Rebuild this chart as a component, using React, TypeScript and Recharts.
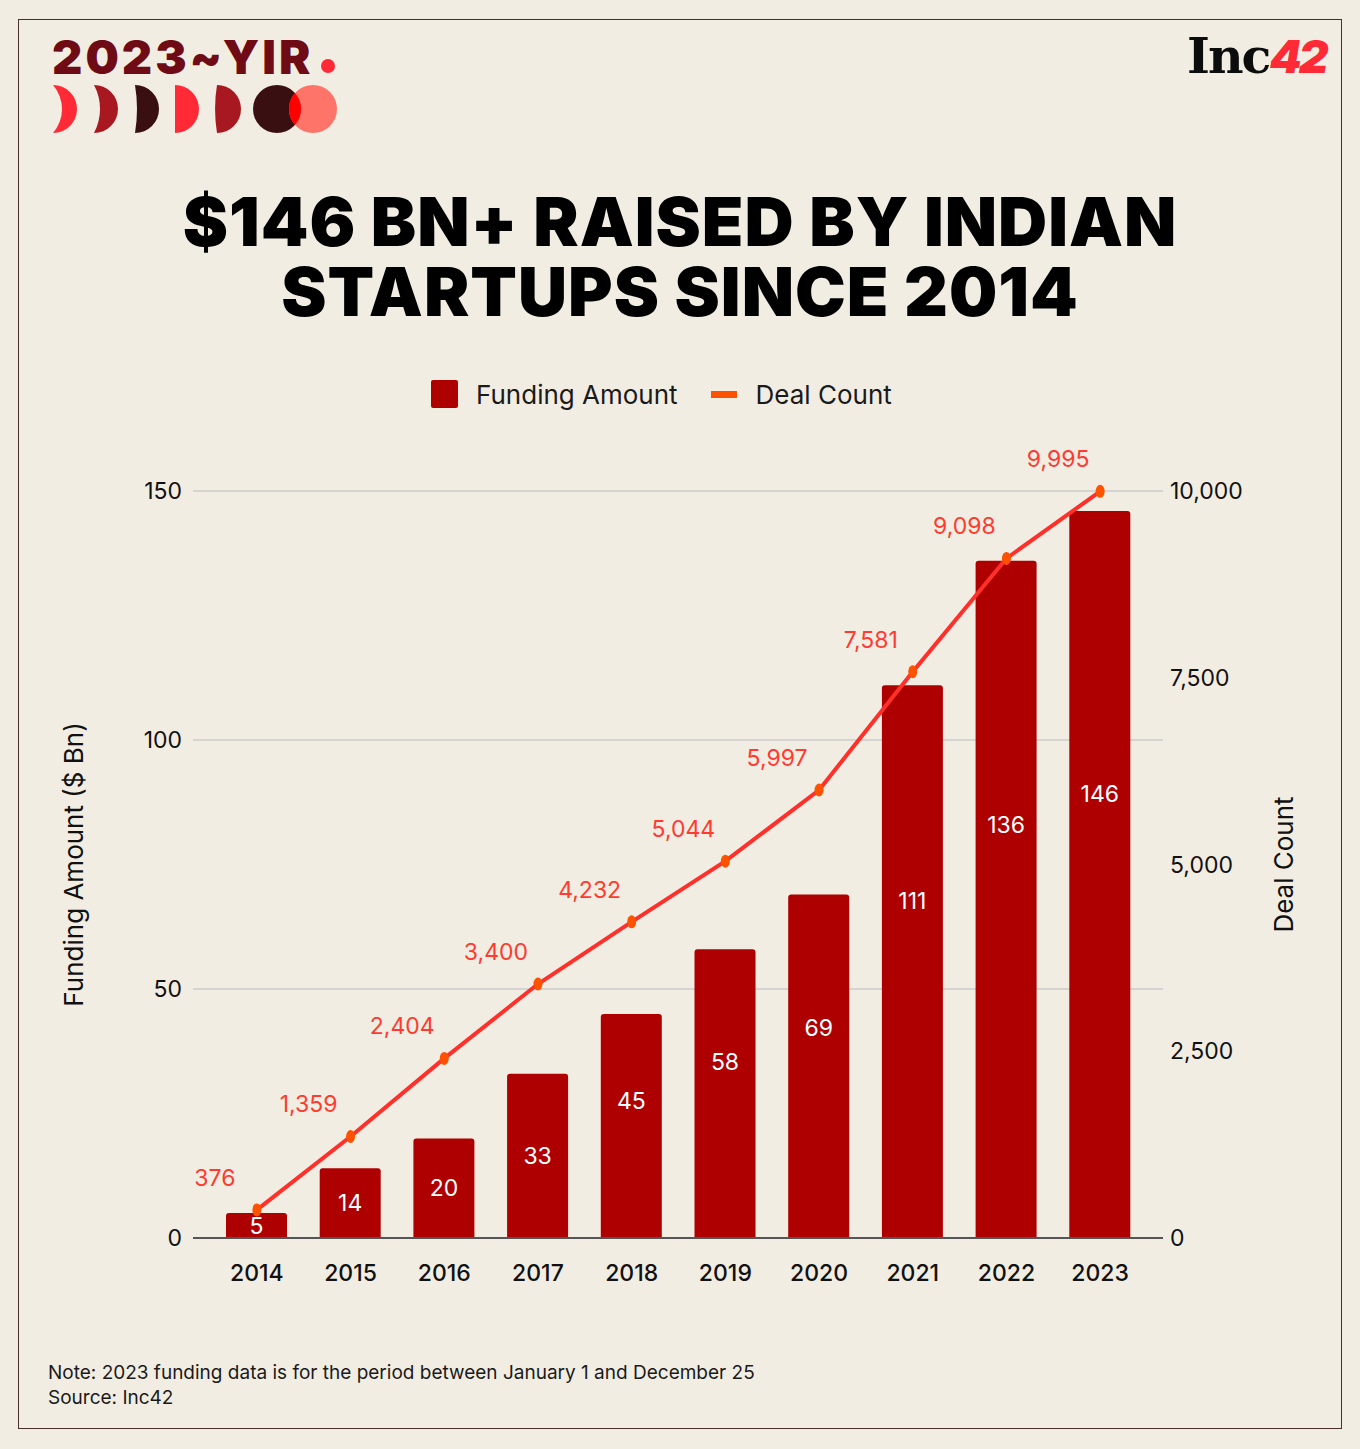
import React from 'react'
import {
  Bar,
  CartesianGrid,
  ComposedChart,
  Label,
  LabelList,
  Legend,
  Line,
  XAxis,
  YAxis,
} from 'recharts'

const YEARS = ['2014', '2015', '2016', '2017', '2018', '2019', '2020', '2021', '2022', '2023']
const FUNDING = [5, 14, 20, 33, 45, 58, 69, 111, 136, 146]
const DEALS = [376, 1359, 2404, 3400, 4232, 5044, 5997, 7581, 9098, 9995]
const FUNDING_TICKS = [0, 50, 100, 150]
const DEAL_TICKS = [0, 2500, 5000, 7500, 10000]
const SERIES_ORDER = ['funding', 'deals']

const data = YEARS.map((year, i) => ({ year, funding: FUNDING[i], deals: DEALS[i] }))

const FONT = 'Inter, "Noto Sans", sans-serif'
const BG = '#f2ede3'
const BAR_RED = '#ae0000'
const LINE_RED = '#ff2f2a'
const DOT_ORANGE = '#ff5200'

const fmt = (n: number) => n.toLocaleString('en-US')

const BarValue = (props: any) => {
  const { x, y, width, height, value } = props
  const cy = y + height * (height > 200 ? 0.39 : 0.5)
  return (
    <text x={x + width / 2} y={cy} fill="#fff" fontSize={23} fontFamily={FONT}
      textAnchor="middle" dominantBaseline="central">{value}</text>
  )
}

const DealValue = (props: any) => {
  const { x, y, value } = props
  return (
    <text x={x - 42} y={y - 32} fill="#ff3a30" fontSize={23} fontFamily={FONT}
      textAnchor="middle" dominantBaseline="central">{fmt(value)}</text>
  )
}

const Dot = (props: any) => {
  const { cx, cy } = props
  if (cx == null || cy == null) return null
  return <ellipse cx={cx} cy={cy} rx={4.5} ry={6.5} fill={DOT_ORANGE} />
}

const LegendBox = (props: any) => {
  const items = [...(props.payload || [])].sort(
    (a: any, b: any) => SERIES_ORDER.indexOf(a.dataKey) - SERIES_ORDER.indexOf(b.dataKey),
  )
  return (
    <div style={{ height: 68, display: 'flex', alignItems: 'center', paddingLeft: 431, fontFamily: FONT }}>
      {items.map((it: any) => (
        <div key={it.value} style={{ display: 'flex', alignItems: 'center', marginRight: 33 }}>
          {it.dataKey === 'funding' ? (
            <span style={{ width: 27, height: 28, background: BAR_RED, borderRadius: 2, marginRight: 18 }} />
          ) : (
            <span style={{ width: 26, height: 7, background: DOT_ORANGE, marginRight: 19 }} />
          )}
          <span style={{ fontSize: 26, color: '#1a1a1a' }}>{it.value}</span>
        </div>
      ))}
    </div>
  )
}

const Logo = () => (
  <svg width={360} height={150} style={{ position: 'absolute', left: 0, top: 0 }}>
    <text x={52} y={74} fontFamily={FONT} fontWeight={900} fontSize={47} letterSpacing={3} fill="#6e0b14">
      2023~YIR
    </text>
    <circle cx={328} cy={66} r={7} fill="#ff2a35" />
    <path d="M53 85 A24 24 0 0 1 53 133 A36.5 36.5 0 0 0 53 85 Z" fill="#ff2a35" />
    <path d="M94 85 A24 24 0 0 1 94 133 A51 51 0 0 0 94 85 Z" fill="#a81820" />
    <path d="M135 85 A24 24 0 0 1 135 133 A145 145 0 0 0 135 85 Z" fill="#3a0f12" />
    <path d="M175 85 A24 24 0 0 1 175 133 Z" fill="#ff2a35" />
    <path d="M217 85 A24 24 0 0 1 217 133 A150 150 0 0 1 217 85 Z" fill="#a81820" />
    <circle cx={277} cy={109} r={24} fill="#3a0f12" />
    <circle cx={313} cy={109} r={24} fill="#ff7468" />
    <path d="M295 93 A24 24 0 0 1 295 125 A24 24 0 0 1 295 93 Z" fill="#ff0000" />
  </svg>
)

const titleLine: React.CSSProperties = {
  position: 'absolute', left: 0, width: 1360, textAlign: 'center', fontFamily: FONT,
  fontWeight: 900, fontSize: 68, lineHeight: '68px', color: '#000', letterSpacing: 1,
}

const axisTitle = (text: string, shift: number) => (p: any) => {
  const vb = p.viewBox
  const x = vb.x + shift
  const y = vb.y + vb.height / 2
  return (
    <text x={x} y={y} transform={`rotate(-90 ${x} ${y})`} textAnchor="middle"
      dominantBaseline="central" fontSize={26} fontFamily={FONT} fill="#111">
      {text}
    </text>
  )
}

export default function App() {
  return (
    <div style={{ position: 'absolute', left: 0, top: 0, width: 1360, height: 1449, background: BG, overflow: 'hidden' }}>
      <div style={{ position: 'absolute', left: 18, top: 19, width: 1322, height: 1408, border: '1.5px solid #4b2e2e' }} />
      <Logo />
      <div style={{ position: 'absolute', left: 1187, top: 26, fontFamily: '"DejaVu Serif", serif', fontWeight: 700, fontSize: 49, letterSpacing: -2, color: '#0b0d0d', lineHeight: '60px' }}>
        Inc<span style={{ color: '#ff2a35', fontFamily: FONT, fontWeight: 900, fontStyle: 'italic', fontSize: 46, letterSpacing: -3 }}>42</span>
      </div>
      <div style={{ ...titleLine, top: 187 }}>$146 BN+ RAISED BY INDIAN</div>
      <div style={{ ...titleLine, top: 257 }}>STARTUPS SINCE 2014</div>

      <div style={{ position: 'absolute', left: 0, top: 360 }}>
        <ComposedChart width={1360} height={960} data={data}
          margin={{ top: 63, right: 107, bottom: 32, left: 133 }}>
          <Legend verticalAlign="top" content={LegendBox}
            wrapperStyle={{ top: 0, left: 0, width: 1360 }} />
          <CartesianGrid vertical={false} yAxisId="left" stroke="#cbcbcb" strokeWidth={1.5} />
          <XAxis dataKey="year" height={50} padding={{ left: 17, right: 16 }}
            axisLine={{ stroke: '#555', strokeWidth: 2 }} tickLine={false} tickSize={0} tickMargin={27}
            tick={{ fontSize: 23, fontWeight: 500, fill: '#111', fontFamily: FONT }} />
          <YAxis yAxisId="left" width={60} domain={[0, 150]} ticks={FUNDING_TICKS}
            axisLine={false} tickLine={false} tickSize={0} tickMargin={11}
            tick={{ fontSize: 23, fill: '#111', fontFamily: FONT }}>
            <Label content={axisTitle('Funding Amount ($ Bn)', -60)} />
          </YAxis>
          <YAxis yAxisId="right" orientation="right" width={90} domain={[0, 10000]} ticks={DEAL_TICKS}
            tickFormatter={fmt} axisLine={false} tickLine={false} tickSize={0} tickMargin={7}
            tick={{ fontSize: 23, fill: '#111', fontFamily: FONT }}>
            <Label content={axisTitle('Deal Count', 120)} />
          </YAxis>
          <Bar yAxisId="left" dataKey="funding" name="Funding Amount" fill={BAR_RED} barSize={61}
            radius={[3, 3, 0, 0]} isAnimationActive={false}>
            <LabelList dataKey="funding" content={BarValue} />
          </Bar>
          <Line yAxisId="right" dataKey="deals" name="Deal Count" type="linear" stroke={LINE_RED}
            strokeWidth={4} dot={<Dot />} activeDot={false} isAnimationActive={false}>
            <LabelList dataKey="deals" content={DealValue} />
          </Line>
        </ComposedChart>
      </div>

      <div style={{ position: 'absolute', left: 48, top: 1360, fontFamily: FONT, fontSize: 19, lineHeight: '25px', color: '#1a1a1a' }}>
        Note: 2023 funding data is for the period between January 1 and December 25<br />Source: Inc42
      </div>
    </div>
  )
}
